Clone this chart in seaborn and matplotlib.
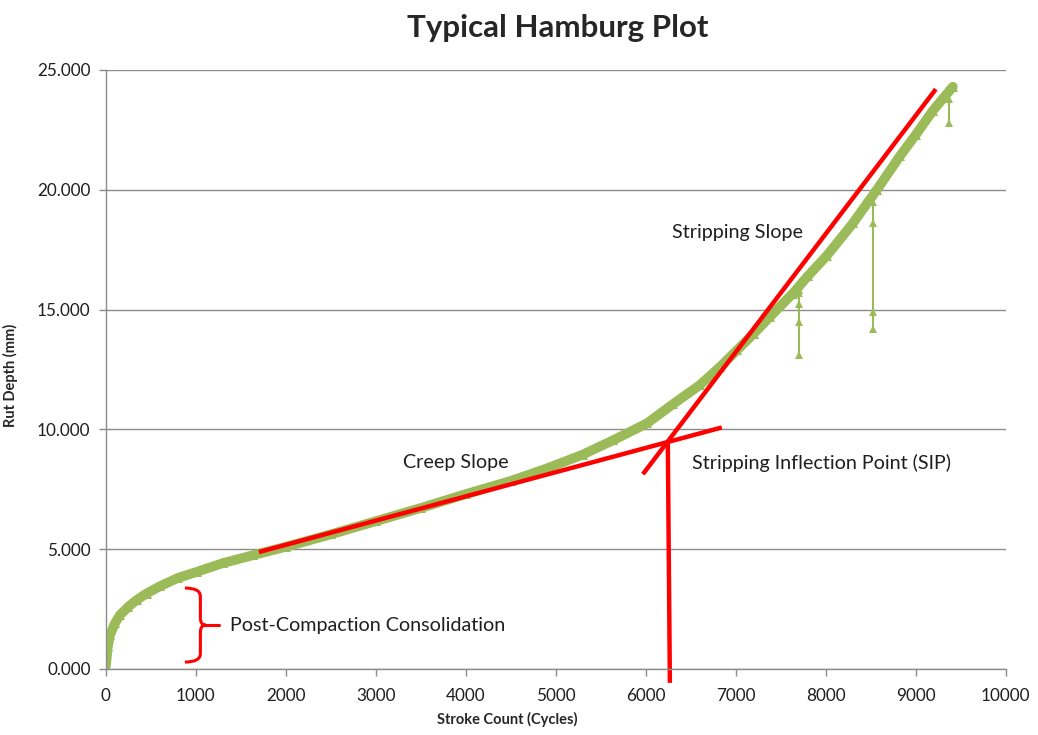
import numpy as np
import pandas as pd
import matplotlib
matplotlib.use("Agg")
import matplotlib.pyplot as plt
from matplotlib.path import Path
from matplotlib.patches import PathPatch
import seaborn as sns

# ----------------------------------------------------------------------
# Data
# ----------------------------------------------------------------------
stroke = [0, 20, 44, 100, 156, 250, 350, 452, 600, 800, 1007, 1300, 1637, 2000,
          2500, 3000, 3500, 4000, 4500, 4900, 5300, 5633, 6011, 6300, 6600, 6822,
          7011, 7200, 7378, 7633, 7800, 8011, 8300, 8567, 8822, 9000, 9189, 9411]
rut = [0.1, 0.9, 1.4, 1.9, 2.25, 2.6, 2.9, 3.15, 3.45, 3.8, 4.05, 4.42, 4.75, 5.1,
       5.62, 6.17, 6.72, 7.3, 7.85, 8.37, 8.95, 9.54, 10.25, 11.05, 11.85, 12.6,
       13.3, 14.0, 14.7, 15.67, 16.4, 17.25, 18.6, 20.0, 21.4, 22.3, 23.3, 24.3]

# momentary drops in the reading (vertical spikes)
spike_x = [7700, 8520, 9367]
spike_y = [[15.8, 15.7, 15.25, 14.5, 13.1],
           [19.9, 19.5, 18.6, 14.9, 14.2],
           [23.8, 22.8]]

# hand-drawn red construction lines (start, end)
creep_x, creep_y = [1700, 6844], [4.88, 10.08]
strip_x, strip_y = [5967, 9222], [8.13, 24.2]
sip_x, sip_y = [6244, 6267], [9.54, -0.58]

# ----------------------------------------------------------------------
# Figure
# ----------------------------------------------------------------------
sns.set_style("white")
plt.rcParams['font.family'] = ['Lato', 'DejaVu Sans']

fig = plt.figure(figsize=(10.38, 7.35), dpi=100)
ax = fig.add_axes([0.102, 0.0898, 0.867, 0.815])

green = "#9BBB59"
red = "#FF0000"

df = pd.DataFrame({"stroke": stroke, "rut": rut})
sns.lineplot(data=df, x="stroke", y="rut", color=green, lw=7, marker="^",
             markersize=7, markeredgewidth=0, estimator=None, sort=False, ax=ax)

for sx, sy in zip(spike_x, spike_y):
    sdf = pd.DataFrame({"stroke": [sx] * len(sy), "rut": sy})
    sns.lineplot(data=sdf, x="stroke", y="rut", color=green, lw=1.5, marker="^",
                 markersize=6, markeredgewidth=0, estimator=None, sort=False, ax=ax)

ax.plot(creep_x, creep_y, color=red, lw=3.2, solid_capstyle="butt")
ax.plot(strip_x, strip_y, color=red, lw=3.2, solid_capstyle="butt")
ax.plot(sip_x, sip_y, color=red, lw=3.2, solid_capstyle="butt", clip_on=False)

# curly brace for post-compaction consolidation
x0, x1, x2, x3 = 878, 1050, 1110, 1260
top, bot, mid = 3.38, 0.29, 1.83
verts = [(x0, top), (x1, top), (x1, top - 0.35),
         (x1, mid + 0.3),
         (x1, mid), (x2, mid),
         (x1, mid), (x1, mid - 0.3),
         (x1, bot + 0.35),
         (x1, bot), (x0, bot)]
codes = [Path.MOVETO, Path.CURVE3, Path.CURVE3,
         Path.LINETO,
         Path.CURVE3, Path.CURVE3,
         Path.CURVE3, Path.CURVE3,
         Path.LINETO,
         Path.CURVE3, Path.CURVE3]
ax.add_patch(PathPatch(Path(verts, codes), fill=False, edgecolor=red, lw=2.2))
ax.plot([x2, x3], [mid, mid], color=red, lw=2.2)

# annotations
txt = dict(fontsize=14.2, color="#1f1f1f", va="center")
ax.text(1380, 1.83, "Post-Compaction Consolidation", ha="left", **txt)
ax.text(3300, 8.6, "Creep Slope", ha="left", **txt)
ax.text(6510, 8.6, "Stripping Inflection Point (SIP)", ha="left", **txt)
ax.text(6290, 18.2, "Stripping Slope", ha="left", **txt)

# axes styling
ax.set_xlim(0, 10000)
ax.set_ylim(0, 25)
ax.set_xticks(np.arange(0, 10001, 1000))
ax.set_yticks(np.arange(0, 25.1, 5))
ax.set_yticklabels([f"{v:.3f}" for v in np.arange(0, 25.1, 5)])
ax.yaxis.grid(True, color="#8c8c8c", lw=1)
ax.xaxis.grid(False)
for s in ["top", "right"]:
    ax.spines[s].set_visible(False)
for s in ["left", "bottom"]:
    ax.spines[s].set_color("#8c8c8c")
    ax.spines[s].set_linewidth(1)
ax.tick_params(axis="both", which="major", length=5, width=1, color="#8c8c8c",
               labelsize=12.3, labelcolor="#1f1f1f", direction="out",
               bottom=True, left=True)
ax.tick_params(axis="x", pad=9)
ax.tick_params(axis="y", pad=6)

ax.set_xlabel("Stroke Count (Cycles)", fontsize=10.5, fontweight="bold")
ax.xaxis.set_label_coords(0.446, -0.072)
ax.set_ylabel("Rut Depth (mm)", fontsize=10.5, fontweight="bold")
ax.yaxis.set_label_coords(-0.098, 0.49)
fig.suptitle("Typical Hamburg Plot", fontsize=22.5, fontweight="bold", x=0.537, y=0.981)

fig.savefig("out.png", dpi=100)
